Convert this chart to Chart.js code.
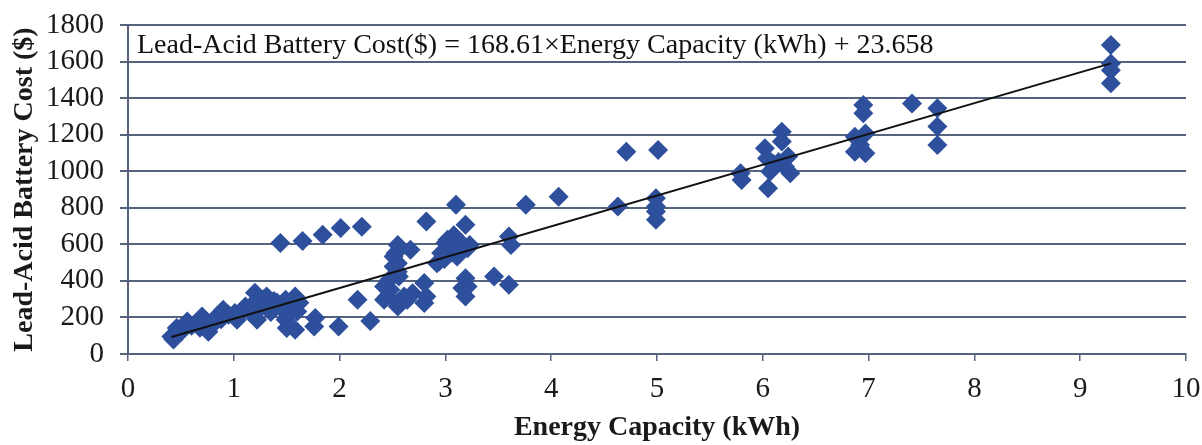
<!DOCTYPE html>
<html>
<head>
<meta charset="utf-8">
<script src="https://cdn.jsdelivr.net/npm/chart.js@4.4.0/dist/chart.umd.min.js"></script>
<style>
  html, body { margin: 0; padding: 0; background: #ffffff; }
  #wrap { width: 1202px; height: 445px; }
</style>
</head>
<body>
<div id="wrap"><canvas id="c" width="1202" height="445"></canvas></div>
<script>
// Battery energy capacity (kWh) and matching lead-acid battery cost ($)
const energyCapacity = [
  0.41, 0.43, 0.45, 0.46, 0.50, 0.53, 0.56, 0.60, 0.65, 0.68, 0.70, 0.73, 0.76, 0.80, 0.81, 0.85, 0.88, 0.90, 0.95,
  1.01, 1.03, 1.08, 1.11, 1.15, 1.20, 1.21, 1.22, 1.25, 1.28, 1.31, 1.31, 1.35, 1.38, 1.41, 1.45, 1.49, 1.49, 1.50,
  1.52, 1.55, 1.58, 1.58, 1.60, 1.62,
  1.44, 1.65, 1.84, 2.01, 2.21, 1.77, 1.76, 1.99, 2.17, 2.29,
  2.42, 2.42, 2.45, 2.47, 2.48, 2.51, 2.51, 2.53, 2.55, 2.55, 2.56, 2.55, 2.55, 2.61, 2.64, 2.67, 2.69, 2.80, 2.80,
  2.82, 2.82, 2.55,
  2.92, 2.94, 2.96, 3.00, 3.02, 3.05, 3.07, 3.08, 3.10, 3.11, 3.15, 3.19, 3.21, 3.23, 2.99, 3.19, 3.16, 3.19, 3.21, 3.10,
  3.46, 3.60, 3.60, 3.62, 3.76, 4.07, 4.63, 4.71, 5.01, 4.99, 4.99, 4.99, 4.99,
  5.79, 5.80, 6.02, 6.04, 6.05, 6.07, 6.18, 6.18, 6.24, 6.21, 6.26, 6.15, 6.10,
  6.87, 6.97, 6.87, 6.97, 6.92, 6.95, 6.95, 7.41, 7.65, 7.65, 7.65, 9.29, 9.29, 9.29, 9.29
];
const batteryCost = [
  96, 80, 110, 142, 120, 150, 178, 155, 165, 143, 205, 180, 122, 160, 187, 210, 190, 242, 215,
  225, 187, 240, 260, 230, 335, 290, 187, 250, 300, 315, 260, 230, 290, 280, 250, 297, 187, 142,
  220, 260, 133, 315, 233, 280,
  607, 618, 652, 690, 696, 197, 151, 151, 297, 180,
  297, 369, 315, 406, 351, 479, 533, 552, 597, 497, 424, 260, 279, 315, 297, 570, 333, 388, 279,
  315, 725, 450,
  497, 506, 552, 607, 625, 552, 579, 650, 816, 533, 607, 707, 579, 597, 520, 415, 361, 315, 369, 580,
  424, 379, 643, 597, 816, 861, 807, 1107, 1116, 852, 807, 734, 780,
  989, 952, 1126, 1071, 907, 998, 1216, 1162, 1080, 1025, 989, 1050, 1040,
  1189, 1207, 1107, 1098, 1144, 1362, 1317, 1371, 1344, 1244, 1144, 1690, 1590, 1553, 1481
];

// Linear fit coefficients and the span of capacities it covers
const fitSlope = 168.61;
const fitIntercept = 23.658;
const fitRange = [0.41, 9.29];

const xTicks = [0, 1, 2, 3, 4, 5, 6, 7, 8, 9, 10];
const yTicks = [0, 200, 400, 600, 800, 1000, 1200, 1400, 1600, 1800];

const scatterPoints = energyCapacity.map((x, i) => ({ x: x, y: batteryCost[i] }));
const fitPoints = fitRange.map(x => ({ x: x, y: fitSlope * x + fitIntercept }));
const equationText = 'Lead-Acid Battery Cost($) = ' + fitSlope + '\u00D7Energy Capacity (kWh) + ' + fitIntercept;

const gridColor = '#56637f';
const serif = '"Liberation Serif", "DejaVu Serif", serif';

const equationLabel = {
  id: 'equationLabel',
  afterDatasetsDraw(chart) {
    const { ctx, chartArea } = chart;
    ctx.save();
    ctx.font = '28px ' + serif;
    ctx.fillStyle = '#111111';
    ctx.textAlign = 'left';
    ctx.textBaseline = 'middle';
    ctx.fillText(equationText, chartArea.left + 9, chartArea.top + 21);
    ctx.restore();
  }
};

new Chart(document.getElementById('c'), {
  type: 'scatter',
  data: {
    datasets: [
      {
        type: 'line',
        data: fitPoints,
        borderColor: '#111111',
        borderWidth: 2,
        pointRadius: 0,
        fill: false,
        order: 0
      },
      {
        data: scatterPoints,
        pointStyle: 'rectRot',
        pointRadius: 10,
        pointHoverRadius: 10,
        backgroundColor: '#2d4f9c',
        borderWidth: 0,
        order: 1
      }
    ]
  },
  plugins: [equationLabel],
  options: {
    responsive: false,
    animation: false,
    events: [],
    layout: { padding: { top: 25, right: 16, left: 0, bottom: 0 } },
    plugins: { legend: { display: false }, tooltip: { enabled: false } },
    scales: {
      x: {
        type: 'linear',
        min: 0,
        max: 10,
        afterBuildTicks(scale) { scale.ticks = xTicks.map(v => ({ value: v })); },
        afterFit(scale) { scale.height = 91; scale.paddingLeft = 0; scale.paddingRight = 0; },
        grid: { drawOnChartArea: false, drawTicks: true, tickLength: 7, color: gridColor, lineWidth: 1.5 },
        border: { display: true, color: gridColor, width: 2 },
        ticks: { color: '#1a1a1a', font: { family: serif, size: 29 }, padding: 11, autoSkip: false, maxRotation: 0, callback: v => String(v) },
        title: {
          display: true,
          text: 'Energy Capacity (kWh)',
          color: '#1a1a1a',
          font: { family: serif, size: 28, weight: 'bold' },
          padding: { top: 0, bottom: 0 }
        }
      },
      y: {
        type: 'linear',
        min: 0,
        max: 1800,
        afterBuildTicks(scale) { scale.ticks = yTicks.map(v => ({ value: v })); },
        afterFit(scale) { scale.width = 128; scale.paddingTop = 0; scale.paddingBottom = 0; },
        grid: { drawOnChartArea: true, drawTicks: true, tickLength: 8, color: gridColor, lineWidth: 2 },
        border: { display: true, color: gridColor, width: 2 },
        ticks: { color: '#1a1a1a', font: { family: serif, size: 29 }, padding: 16, autoSkip: false, callback: v => String(v) },
        title: {
          display: true,
          text: 'Lead-Acid Battery Cost ($)',
          color: '#1a1a1a',
          font: { family: serif, size: 28, weight: 'bold' },
          padding: { top: 8, bottom: 0 }
        }
      }
    }
  }
});
</script>
</body>
</html>
